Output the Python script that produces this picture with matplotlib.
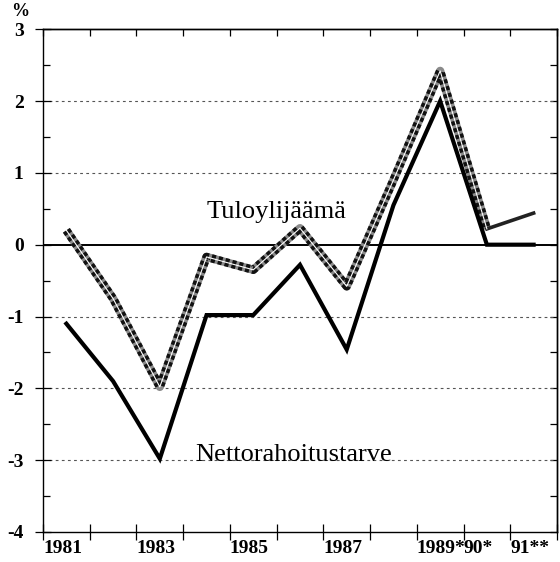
import matplotlib
matplotlib.use("Agg")
import matplotlib.pyplot as plt
import matplotlib.transforms as mtransforms

# vuodet ja arvot, % BKT:sta
years = ["1981", "1982", "1983", "1984", "1985", "1986", "1987", "1988", "1989", "1990", "1991"]
tuloylijaama = [0.2, -0.75, -1.98, -0.17, -0.35, 0.23, -0.58, 0.9, 2.42, 0.22, 0.44]
nettorahoitustarve = [-1.1, -1.9, -2.98, -0.98, -0.98, -0.28, -1.46, 0.55, 2.0, 0.0, 0.0]

xtick_labels = ["1981", "", "1983", "", "1985", "", "1987", "", "1989*", "90*", "91**", ""]
ytick_values = [3, 2, 1, 0, -1, -2, -3, -4]
grid_values = [2, 1, -1, -2, -3]

SERIF = "Liberation Serif"

fig = plt.figure(figsize=(5.6, 5.62), dpi=100)
ax = fig.add_axes([0.0768, 0.0534, 0.9178, 0.8946])

x = [i + 0.5 for i in range(len(years))]

# apuviivat
for g in grid_values:
    ax.axhline(g, color="#555555", lw=0.8, dashes=(2.5, 3), zorder=1)
ax.axhline(0, color="black", lw=1.4, zorder=2)

# tuloylijäämä: paksu rasteroitu viiva
n = len(x) - 1
ax.plot(x[:n], tuloylijaama[:n], color="#8a8a8a", lw=6.0, solid_joinstyle="round",
        solid_capstyle="butt", zorder=3)
ax.plot(x[:n], tuloylijaama[:n], color="#111111", lw=6.0, dashes=(0.5, 0.35),
        dash_joinstyle="round", zorder=4)
ax.plot(x[:n], tuloylijaama[:n], color="white", lw=0.8, zorder=5)
ax.plot(x[n - 1:], tuloylijaama[n - 1:], color="#222222", lw=2.6, zorder=4)

# nettorahoitustarve
ax.plot(x, nettorahoitustarve, color="black", lw=3.0, solid_joinstyle="miter", zorder=6)

ax.text(4.99, 0.46, "Tuloylijäämä", family=SERIF, fontsize=19, ha="center", va="center",
        zorder=7)
ax.text(5.37, -2.93, "Nettorahoitustarve", family=SERIF, fontsize=19, ha="center", va="center",
        zorder=7)

ax.set_xlim(0, 11)
ax.set_ylim(-4, 3)

ax.set_xticks(range(12))
ax.set_xticklabels(xtick_labels, family=SERIF, fontweight="bold", fontsize=14, ha="left")
offset = mtransforms.ScaledTranslation(4 / 100, 0, fig.dpi_scale_trans)
for lab in ax.get_xticklabels():
    lab.set_transform(lab.get_transform() + offset)

ax.set_yticks(ytick_values)
ax.set_yticklabels([str(v) for v in ytick_values], family=SERIF, fontweight="bold", fontsize=14)
ax.set_yticks([v + 0.5 for v in range(-4, 3)], minor=True)

ax.tick_params(axis="x", which="major", direction="inout", length=12, width=0.9, pad=0)
ax.tick_params(axis="y", which="major", direction="inout", length=12, width=0.9, pad=8)
ax.tick_params(axis="y", which="minor", direction="in", length=5, width=0.9)

# ylä- ja oikea reuna: sisäänpäin olevat merkit
top = ax.secondary_xaxis("top")
top.set_xticks(range(12))
top.tick_params(direction="in", length=5, width=0.9, labeltop=False)
right = ax.secondary_yaxis("right")
right.set_yticks([v * 0.5 for v in range(-8, 7)])
right.tick_params(direction="in", length=5, width=0.9, labelright=False)

for s in list(ax.spines.values()) + [top.spines["top"], right.spines["right"]]:
    s.set_linewidth(1.0)

fig.text(20 / 560, 1 - 12 / 562, "%", family=SERIF, fontweight="bold", fontsize=13,
         ha="center", va="center")

fig.savefig("out.png", dpi=100)
